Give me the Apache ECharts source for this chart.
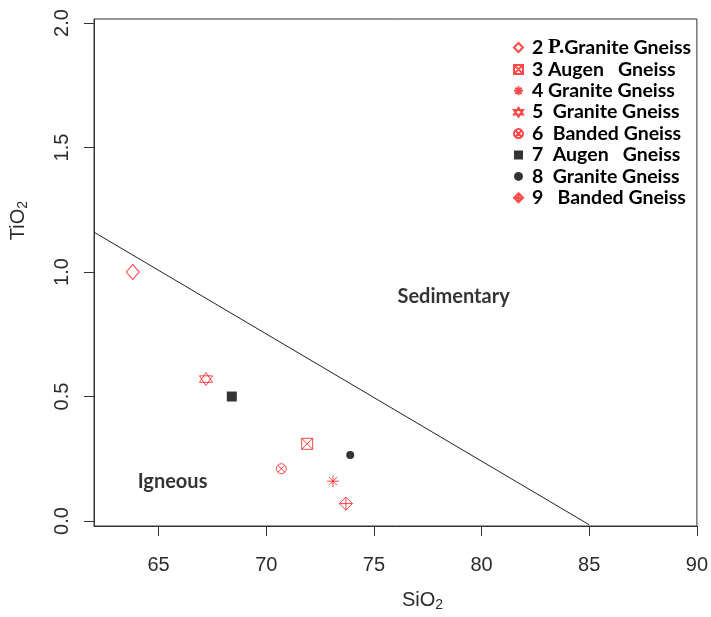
<!DOCTYPE html>
<html>
<head>
<meta charset="utf-8">
<script src="https://cdn.jsdelivr.net/npm/echarts@6/dist/echarts.min.js"></script>
<style>
    html, body { margin: 0; padding: 0; background: #fff; }
    #chart { width: 711px; height: 617px; }
</style>
</head>
<body>
<div id="chart"></div>
<script>
// sample data (SiO2 vs TiO2)
const sampleNames = ['2 P.Granite Gneiss', '3 Augen   Gneiss', '4 Granite Gneiss', '5  Granite Gneiss',
    '6  Banded Gneiss', '7  Augen   Gneiss', '8  Granite Gneiss', '9   Banded Gneiss'];
const sio2 = [63.8, 71.9, 73.1, 67.2, 70.7, 68.4, 73.9, 73.7];
const tio2 = [1.0, 0.31, 0.16, 0.57, 0.21, 0.5, 0.265, 0.07];

// discrimination line
const lineSiO2 = [62, 85];
const lineTiO2 = [1.16, -0.015];

// field labels
const fieldNames = ['Sedimentary', 'Igneous'];
const fieldSiO2 = [78.7, 65.65];
const fieldTiO2 = [0.9, 0.16];

const xTicks = [65, 70, 75, 80, 85, 90];
const yTicks = [0, 0.5, 1, 1.5, 2];

const RED = '#ff1a1a';
// marker looks (R pch-like)
const markers = [
    {symbol: 'diamond', size: [13, 15], color: RED, open: true},
    {symbol: 'path://M0,0L10,0L10,10L0,10ZM0,0L10,10M0,10L10,0', size: 11, color: RED, open: true},
    {symbol: 'path://M0,5L10,5M5,0L5,10M1.5,1.5L8.5,8.5M1.5,8.5L8.5,1.5', size: 12, color: RED, open: true},
    {symbol: 'path://M5,0L10,7.5L0,7.5ZM0,2.5L10,2.5L5,10Z', size: 13, color: RED, open: true},
    {symbol: 'path://M0,5A5,5,0,1,1,10,5A5,5,0,1,1,0,5ZM1.5,1.5L8.5,8.5M1.5,8.5L8.5,1.5', size: 10, color: RED, open: true},
    {symbol: 'rect', size: 10, color: '#000', open: false},
    {symbol: 'circle', size: 8, color: '#000', open: false},
    {symbol: 'path://M5,0L10,5L5,10L0,5ZM5,0L5,10M0,5L10,5', size: 13, color: RED, open: true},
];

const txt = '#2b2b2b';

let series = sampleNames.map((name, i) => {
    let m = markers[i];
    return {
        name: name,
        type: 'scatter',
        symbol: m.symbol,
        symbolSize: m.size,
        itemStyle: m.open ? {
            color: 'rgba(0,0,0,0)',
            borderColor: m.color,
            borderWidth: 1,
        } : {
            color: m.color,
        },
        data: [[sio2[i], tio2[i]]],
    };
});

series.push({
    type: 'line',
    symbol: 'none',
    silent: true,
    lineStyle: {color: '#222', width: 1},
    data: lineSiO2.map((x, i) => [x, lineTiO2[i]]),
});

series.push({
    type: 'scatter',
    symbolSize: 0,
    silent: true,
    label: {
        show: true,
        position: 'inside',
        formatter: p => p.name,
        color: '#000',
        fontFamily: 'Lato',
        fontWeight: 'bold',
        fontSize: 20,
    },
    data: fieldNames.map((n, i) => ({name: n, value: [fieldSiO2[i], fieldTiO2[i]]})),
});

let options = {
    animation: false,
    grid: {
        left: 93,
        top: 19,
        right: 11,
        bottom: 91,
        show: true,
        borderColor: '#333',
        borderWidth: 1,
    },
    legend: {
        data: sampleNames,
        orient: 'vertical',
        left: 508,
        top: 32,
        itemWidth: 9,
        itemHeight: 9,
        itemGap: 1.4,
        textStyle: {
            color: '#000',
            fontFamily: 'Lato',
            fontWeight: 'bold',
            fontSize: 19.5,
            lineHeight: 16,
            padding: [0, 0, 0, 4],
            rich: {
                p: {
                    fontFamily: 'Liberation Serif',
                    fontWeight: 'bold',
                    fontSize: 21,
                    lineHeight: 16,
                    color: '#000',
                },
            },
        },
        formatter: n => n.replace('P.', '{p|P.}'),
    },
    xAxis: {
        type: 'value',
        min: 62,
        max: 90,
        name: '{n|SiO}{s|2}',
        nameLocation: 'middle',
        nameGap: 62,
        nameTextStyle: {
            padding: [0, 0, 0, 54],
            rich: {
                n: {fontSize: 20, color: txt, fontFamily: 'Liberation Sans'},
                s: {fontSize: 14, color: txt, fontFamily: 'Liberation Sans', padding: [10, 0, 0, 0]},
            },
        },
        splitLine: {show: false},
        axisLine: {show: true, onZero: false, lineStyle: {color: '#333'}},
        axisTick: {show: true, length: 10, customValues: xTicks, lineStyle: {color: '#333'}},
        axisLabel: {
            customValues: xTicks,
            margin: 29,
            fontSize: 20,
            color: txt,
            fontFamily: 'Liberation Sans',
        },
    },
    yAxis: {
        type: 'value',
        min: -0.02,
        max: 2.016,
        name: '{n|TiO}{s|2}',
        nameLocation: 'middle',
        nameGap: 64,
        nameRotate: 90,
        nameTextStyle: {
            padding: [0, 0, 0, 104],
            rich: {
                n: {fontSize: 20, color: txt, fontFamily: 'Liberation Sans'},
                s: {fontSize: 14, color: txt, fontFamily: 'Liberation Sans', padding: [10, 0, 0, 0]},
            },
        },
        splitLine: {show: false},
        axisLine: {show: true, onZero: false, lineStyle: {color: '#333'}},
        axisTick: {show: true, length: 10, customValues: yTicks, lineStyle: {color: '#333'}},
        axisLabel: {
            customValues: yTicks,
            rotate: 90,
            margin: 22,
            fontSize: 20,
            color: txt,
            fontFamily: 'Liberation Sans',
            formatter: v => v.toFixed(1),
        },
    },
    series: series,
};

let chart = echarts.init(document.getElementById('chart'));
chart.setOption(options);
</script>
</body>
</html>
